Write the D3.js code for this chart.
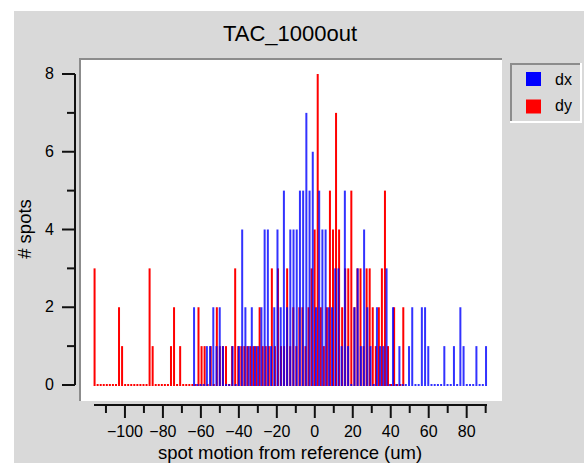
<!DOCTYPE html>
<html>
<head>
<meta charset="utf-8">
<script src="https://cdn.jsdelivr.net/npm/d3@7"></script>
<style>
  html, body { margin: 0; padding: 0; background: #ffffff; }
  svg { display: block; }
  text { font-family: "Liberation Sans", Arial, sans-serif; fill: #000; }
</style>
</head>
<body>
<svg id="chart" width="584" height="463"></svg>
<script>
// ---- data ----
const title = "TAC_1000out";
const xLabel = "spot motion from reference (um)";
const yLabel = "# spots";
const seriesNames = ["dx", "dy"];
const seriesColors = ["#0000ff", "#ff0000"];

// dx histogram: first bin centre, bin width (um), counts per bin
const dxStart = -63.6;
const dxWidth = 1.69;
const dxCounts = [
  2,0,0,0,1,1,2,1,2,1,
  0,0,1,0,1,4,2,1,2,1,
  1,2,4,4,1,2,4,2,5,2,
  4,4,4,5,5,7,5,6,2,5,
  4,4,2,2,3,3,1,5,1,0,
  2,3,1,4,2,1,0,2,1,1,
  3,0,2,0,1,0,0,1,2,0,
  0,2,2,1,0,0,0,0,1,0,
  0,1,0,2,1,0,0,0,1,0,
  0,1
];

// dy histogram
const dyStart = -116.0;
const dyWidth = 1.61;
const dyCounts = [
  3,0,0,0,0,0,0,0,2,1,
  0,0,0,0,0,0,0,0,3,1,
  0,0,0,0,0,1,2,0,1,0,
  0,0,0,0,2,1,1,0,1,0,
  2,1,1,1,0,1,3,1,1,1,
  1,1,1,1,2,1,1,1,3,1,
  3,1,1,3,1,2,1,2,2,1,
  2,3,4,8,2,1,2,5,4,7,
  4,2,3,3,5,2,3,3,1,3,
  3,2,1,2,3,5,1,0,2,0,
  0,2
];

const xDomain = [-116.3, 90.7];
const yDomain = [0, 8];
const xMajorTicks = [-100, -80, -60, -40, -20, 0, 20, 40, 60, 80];
const xMinorTicks = [-110, -90, -70, -50, -30, -10, 10, 30, 50, 70, 90];
const yMajorTicks = [0, 2, 4, 6, 8];
const yMinorTicks = [1, 3, 5, 7];

// ---- drawing ----
const svg = d3.select("#chart");

// grey window panel
svg.append("rect").attr("x", 14).attr("y", 11).attr("width", 570).attr("height", 452)
  .attr("fill", "#d9d9d9");

// plot frame (sunken)
svg.append("rect").attr("x", 79).attr("y", 58).attr("width", 423).attr("height", 343)
  .attr("fill", "#ffffff");
svg.append("rect").attr("x", 79).attr("y", 58).attr("width", 423).attr("height", 2)
  .attr("fill", "#8c8c8c");
svg.append("rect").attr("x", 79).attr("y", 58).attr("width", 2).attr("height", 343)
  .attr("fill", "#8c8c8c");

const x = d3.scaleLinear().domain(xDomain).range([94, 487]);
const y = d3.scaleLinear().domain(yDomain).range([385, 74]);

function bins(start, width, counts) {
  return counts.map((c, i) => ({ v: start + i * width, c }));
}

function drawSeries(data, color, opacity) {
  const g = svg.append("g").attr("opacity", opacity);
  g.selectAll("rect").data(data).enter().append("rect")
    .attr("x", d => x(d.v) - 1)
    .attr("width", 2)
    .attr("y", d => d.c > 0 ? y(d.c) : y(0) - 1)
    .attr("height", d => d.c > 0 ? y(0) - y(d.c) + 1 : 2)
    .attr("fill", color);
}

drawSeries(bins(dyStart, dyWidth, dyCounts), seriesColors[1], 1);
drawSeries(bins(dxStart, dxWidth, dxCounts), seriesColors[0], 0.8);

// axes
const fmt = d => d < 0 ? "\u2212" + Math.abs(d) : String(d);

function styleAxis(g) {
  g.selectAll("path, line").attr("stroke", "#111").attr("stroke-width", 2);
  g.selectAll("text").style("font-size", "16px").style("font-family", '"Liberation Sans", Arial, sans-serif').attr("fill", "#000");
}

const xAxisMajor = svg.append("g").attr("transform", "translate(0,405)")
  .call(d3.axisBottom(x).tickValues(xMajorTicks).tickSize(13).tickSizeOuter(0)
    .tickPadding(8).tickFormat(fmt).offset(0));
styleAxis(xAxisMajor);
const xAxisMinor = svg.append("g").attr("transform", "translate(0,405)")
  .call(d3.axisBottom(x).tickValues(xMinorTicks).tickSize(8).tickSizeOuter(0)
    .tickFormat("").offset(0));
styleAxis(xAxisMinor);

const yAxisMajor = svg.append("g").attr("transform", "translate(75,0)")
  .call(d3.axisLeft(y).tickValues(yMajorTicks).tickSize(13).tickSizeOuter(0)
    .tickPadding(8).tickFormat(fmt).offset(0));
styleAxis(yAxisMajor);
const yAxisMinor = svg.append("g").attr("transform", "translate(75,0)")
  .call(d3.axisLeft(y).tickValues(yMinorTicks).tickSize(8).tickSizeOuter(0)
    .tickFormat("").offset(0));
styleAxis(yAxisMinor);

// title and axis labels
svg.append("text").attr("x", 290).attr("y", 41).attr("text-anchor", "middle")
  .style("font-size", "22px").text(title);
svg.append("text").attr("x", 290).attr("y", 459).attr("text-anchor", "middle")
  .style("font-size", "18.5px").text(xLabel);
svg.append("text").attr("transform", "translate(31,229) rotate(-90)")
  .attr("text-anchor", "middle").style("font-size", "18.5px").text(yLabel);

// legend (sunken box)
const lg = svg.append("g");
lg.append("rect").attr("x", 510).attr("y", 63).attr("width", 72).attr("height", 60).attr("fill", "#ffffff");
lg.append("rect").attr("x", 510).attr("y", 63).attr("width", 70).attr("height", 58).attr("fill", "#d9d9d9");
lg.append("rect").attr("x", 510).attr("y", 63).attr("width", 70).attr("height", 2).attr("fill", "#8c8c8c");
lg.append("rect").attr("x", 510).attr("y", 63).attr("width", 2).attr("height", 58).attr("fill", "#8c8c8c");
seriesNames.forEach((name, i) => {
  lg.append("rect").attr("x", 526).attr("y", 72 + i * 27.5).attr("width", 15).attr("height", 14)
    .attr("fill", seriesColors[i]);
  lg.append("text").attr("x", 555).attr("y", 85 + i * 26).style("font-size", "16px").text(name);
});
</script>
</body>
</html>
